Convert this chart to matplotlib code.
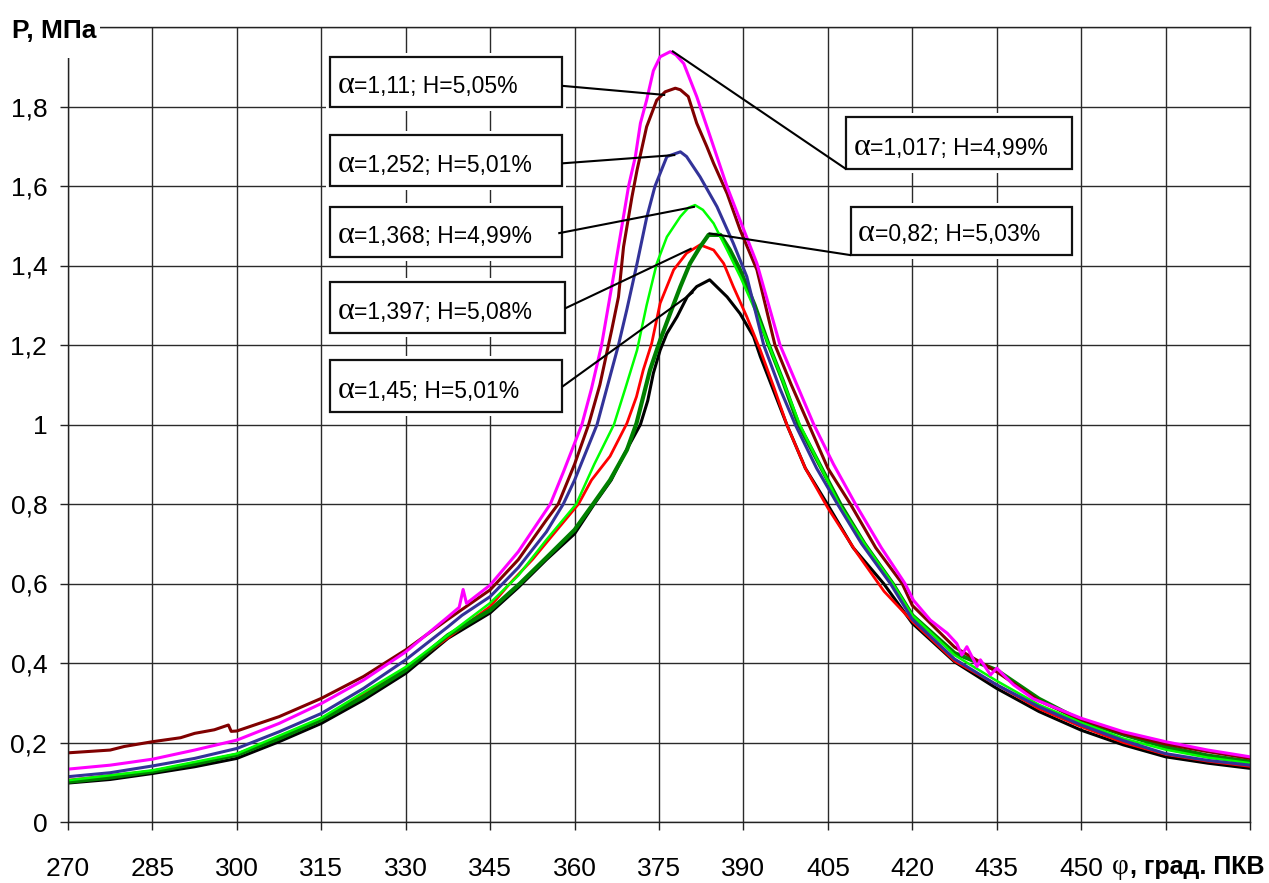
import numpy as np
import matplotlib
matplotlib.use('Agg')
import matplotlib.pyplot as plt
from matplotlib.patches import Rectangle

# ---------------- data ----------------
# alpha=1,017; H=4,99%  (magenta)
x_m = [270, 277.5, 285, 292.5, 300, 307.5, 315, 322.5, 330, 337.5, 339.5, 340.2, 340.8, 345, 350, 355.7, 358,
       361.3, 363, 364.8, 367, 369.6, 370.8, 371.7, 372.8, 374, 375.2, 377, 378, 379.4, 381.7, 384.7, 387.1,
       389.4, 392.4, 394.5, 396.5, 399.5, 402.5, 406, 409.9, 414.5, 418.7, 420.2, 423.2, 426.2, 427.9, 428.8,
       429.7, 431.5, 432.1, 433.9, 435, 436.5, 438, 441.5, 450, 457.5, 465, 472.5, 480]
y_m = [0.133, 0.143, 0.158, 0.181, 0.206, 0.248, 0.298, 0.357, 0.428, 0.516, 0.54, 0.585, 0.55, 0.596, 0.68,
       0.80, 0.88, 1.0, 1.09, 1.2, 1.38, 1.6, 1.674, 1.758, 1.816, 1.89, 1.925, 1.938, 1.93, 1.908, 1.825,
       1.699, 1.598, 1.514, 1.405, 1.30, 1.2, 1.10, 1.0, 0.90, 0.8, 0.69, 0.6, 0.558, 0.508, 0.475, 0.449,
       0.42, 0.441, 0.391, 0.408, 0.37, 0.387, 0.366, 0.345, 0.31, 0.261, 0.227, 0.202, 0.181, 0.164]

# alpha=1,11; H=5,05%  (dark red)
x_d = [270, 277.5, 280, 285, 290, 292.5, 296, 298.5, 299, 300, 307.5, 315, 322.5, 330, 337.5, 345, 350, 355,
       357.1, 360, 362.5, 364.5, 366.6, 367.8, 368.7, 370.2, 371.1, 372.8, 374.6, 376.1, 377.9, 378.8, 380.2,
       381.7, 383.5, 384.7, 387.1, 389.4, 392.4, 395.6, 398.5, 401.6, 405, 409, 413.5, 418.2, 420, 427.5, 435,
       442.5, 450, 457.5, 465, 472.5, 480]
y_d = [0.174, 0.181, 0.19, 0.202, 0.212, 0.223, 0.232, 0.244, 0.228, 0.229, 0.265, 0.311, 0.366, 0.433, 0.51,
       0.584, 0.66, 0.76, 0.80, 0.90, 1.0, 1.10, 1.238, 1.321, 1.447, 1.573, 1.64, 1.749, 1.816, 1.837, 1.846,
       1.842, 1.825, 1.758, 1.699, 1.657, 1.581, 1.49, 1.389, 1.2, 1.10, 1.0, 0.89, 0.8, 0.69, 0.6, 0.545,
       0.44, 0.378, 0.305, 0.258, 0.222, 0.196, 0.177, 0.16]

# alpha=1,252; H=5,01%  (blue)
x_b = [270, 277.5, 285, 292.5, 300, 307.5, 315, 322.5, 330, 337.5, 340, 345, 350, 355, 358, 360, 364, 367.8,
       369.3, 371.1, 372.8, 374.3, 376.4, 378.8, 379.9, 382.3, 385.3, 388.2, 390.6, 393.6, 396.5, 399.2, 403,
       406.7, 411, 416.1, 420, 427.5, 435, 442.5, 450, 457.5, 465, 472.5, 480]
y_b = [0.114, 0.124, 0.141, 0.160, 0.185, 0.227, 0.273, 0.336, 0.408, 0.491, 0.52, 0.567, 0.64, 0.73, 0.80,
       0.86, 1.0, 1.2, 1.29, 1.405, 1.52, 1.6, 1.674, 1.686, 1.674, 1.623, 1.548, 1.456, 1.372, 1.2, 1.09, 1.0,
       0.89, 0.8, 0.70, 0.6, 0.51, 0.41, 0.345, 0.29, 0.244, 0.205, 0.172, 0.155, 0.143]

# alpha=1,368; H=4,99%  (lime)
x_l = [270, 285, 300, 315, 330, 345, 350, 355, 360.3, 363.5, 367, 369, 371.1, 372.8, 374.6, 376.4, 378.8,
       380.2, 381.4, 382.8, 384.7, 387.1, 389.5, 392, 394.5, 397, 400, 403.5, 407, 411.5, 416.5, 420, 427.5,
       435, 442.5, 450, 457.5, 465, 472.5, 480]
y_l = [0.105, 0.13, 0.172, 0.262, 0.39, 0.551, 0.62, 0.71, 0.8, 0.9, 1.0, 1.09, 1.187, 1.30, 1.405, 1.472,
       1.523, 1.545, 1.552, 1.54, 1.506, 1.439, 1.37, 1.29, 1.2, 1.11, 1.0, 0.9, 0.8, 0.7, 0.6, 0.52, 0.42,
       0.355, 0.295, 0.25, 0.21, 0.182, 0.162, 0.148]

# alpha=1,397; H=5,08%  (red)
x_r = [270, 285, 300, 315, 330, 345, 348.5, 352.5, 356, 360.7, 363, 366.3, 369.3, 371, 372.2, 373.7, 375.2,
       376.4, 377.6, 379.9, 382.3, 384.7, 386.5, 388.2, 390.6, 393, 395.5, 397.7, 401, 405, 410, 415, 420,
       427.5, 435, 442.5, 450, 457.5, 465, 472.5, 480]
y_r = [0.105, 0.128, 0.17, 0.258, 0.385, 0.542, 0.6, 0.66, 0.72, 0.8, 0.86, 0.92, 1.003, 1.07, 1.137, 1.204,
       1.305, 1.347, 1.389, 1.431, 1.452, 1.439, 1.405, 1.347, 1.271, 1.187, 1.09, 1.0, 0.89, 0.79, 0.68,
       0.58, 0.505, 0.405, 0.345, 0.285, 0.24, 0.2, 0.17, 0.153, 0.14]

# alpha=0,82; H=5,03%  (green)
x_g = [270, 277.5, 285, 292.5, 300, 307.5, 315, 322.5, 330, 337.5, 345, 350.3, 355, 360, 363.3, 366.3, 369.3,
       371, 372.2, 373.4, 375.2, 377, 378.8, 380.5, 382.3, 383.8, 385.9, 387.6, 389.4, 392, 394.5, 397, 399.8,
       403.5, 407.2, 411.5, 416.5, 420, 427.5, 435, 442.5, 450, 457.5, 465, 472.5, 480]
y_g = [0.101, 0.112, 0.127, 0.146, 0.169, 0.21, 0.257, 0.315, 0.382, 0.47, 0.533, 0.6, 0.665, 0.735, 0.8,
       0.86, 0.936, 1.003, 1.07, 1.137, 1.212, 1.28, 1.347, 1.405, 1.447, 1.477, 1.477, 1.439, 1.389, 1.30,
       1.2, 1.11, 1.0, 0.9, 0.8, 0.7, 0.6, 0.52, 0.425, 0.382, 0.31, 0.255, 0.22, 0.189, 0.167, 0.152]

# alpha=1,45; H=5,01%  (black)
x_k = [270, 277.5, 285, 292.5, 300, 307.5, 315, 322.5, 330, 337.5, 345, 350, 355, 360, 363.5, 366.5, 369,
       371.7, 373, 374, 375.2, 376.4, 378.2, 380, 381.7, 384, 387.1, 389.4, 391.8, 393, 395.5, 397.7, 401,
       404.9, 409.5, 414.9, 420, 427.5, 435, 442.5, 450, 457.5, 465, 472.5, 480]
y_k = [0.098, 0.107, 0.122, 0.139, 0.160, 0.202, 0.248, 0.307, 0.374, 0.462, 0.526, 0.59, 0.66, 0.725, 0.8,
       0.86, 0.93, 1.0, 1.06, 1.129, 1.187, 1.229, 1.271, 1.321, 1.347, 1.364, 1.321, 1.279, 1.221, 1.171,
       1.08, 1.0, 0.89, 0.8, 0.69, 0.6, 0.50, 0.403, 0.336, 0.278, 0.231, 0.194, 0.164, 0.148, 0.135]

labels = ['=1,017; H=4,99%', '=1,11; H=5,05%', '=1,252; H=5,01%', '=1,368; H=4,99%',
          '=1,397; H=5,08%', '=0,82; H=5,03%', '=1,45; H=5,01%']

x_ticks = [270, 285, 300, 315, 330, 345, 360, 375, 390, 405, 420, 435, 450, 465, 480]
x_tick_labels = ['270', '285', '300', '315', '330', '345', '360', '375', '390', '405', '420', '435', '450', '', '']
y_ticks = [0, 0.2, 0.4, 0.6, 0.8, 1.0, 1.2, 1.4, 1.6, 1.8, 2.0]
y_tick_labels = ['0', '0,2', '0,4', '0,6', '0,8', '1', '1,2', '1,4', '1,6', '1,8', '']

# ---------------- style ----------------
plt.rcParams['font.family'] = ['Liberation Sans', 'DejaVu Sans']

W, H = 1269, 883
fig = plt.figure(figsize=(W / 100, H / 100), dpi=100)
fig.patch.set_facecolor('white')
ax = fig.add_axes([68 / W, 1 - 822 / H, (1250 - 68) / W, (822 - 27) / H])
ax.set_xlim(270, 480)
ax.set_ylim(0, 2.0)
ax.set_xticks(x_ticks)
ax.set_xticklabels(x_tick_labels, fontsize=19)
ax.set_yticks(y_ticks)
ax.set_yticklabels(y_tick_labels, fontsize=19)
ax.tick_params(axis='both', direction='out', length=6, width=1.0, color='#222222')
ax.tick_params(axis='x', pad=19)
ax.tick_params(axis='y', pad=9)
ax.grid(True, color='#2a2a2a', lw=1.0)
ax.set_axisbelow(True)
for s in ax.spines.values():
    s.set_color('#222222')
    s.set_linewidth(1.0)

series = [
    (x_k, y_k, '#000000', 2.2),
    (x_r, y_r, '#ff0000', 2.0),
    (x_g, y_g, '#008000', 3.0),
    (x_l, y_l, '#00ff00', 1.8),
    (x_b, y_b, '#333399', 2.2),
    (x_d, y_d, '#800000', 2.2),
    (x_m, y_m, '#ff00ff', 2.2),
]
for i, (xs, ys, c, lw) in enumerate(series):
    ax.plot(xs, ys, color=c, lw=lw, zorder=2 + i * 0.01, solid_joinstyle='round')

# ---------------- callouts (layout, data coords) ----------------
px_x = 15 / 84.4   # data units per pixel, x
px_y = 2.0 / 795   # data units per pixel, y
callouts = [
    # (text, box x0, x1, y0, y1, line start, line end)
    (labels[1], 316.6, 357.8, 1.798, 1.924, (357.8, 1.852), (376.1, 1.829)),
    (labels[2], 316.6, 357.8, 1.600, 1.728, (357.8, 1.657), (377.9, 1.678)),
    (labels[3], 316.6, 357.8, 1.421, 1.546, (357.1, 1.481), (381.4, 1.548)),
    (labels[4], 316.6, 358.3, 1.229, 1.359, (358.3, 1.292), (380.8, 1.443)),
    (labels[6], 316.6, 357.8, 1.032, 1.162, (357.8, 1.095), (381.1, 1.333)),
    (labels[0], 408.3, 448.4, 1.642, 1.773, (408.3, 1.642), (377.3, 1.940)),
    (labels[5], 409.1, 448.4, 1.426, 1.547, (409.1, 1.426), (383.8, 1.481)),
]
for txt, x0, x1, y0, y1, p0, p1 in callouts:
    m = 4
    ax.add_patch(Rectangle((x0 - m * px_x, y0 - m * px_y), (x1 - x0) + 2 * m * px_x, (y1 - y0) + 2 * m * px_y,
                           facecolor='white', edgecolor='none', zorder=3, clip_on=False))
    ax.add_patch(Rectangle((x0, y0), x1 - x0, y1 - y0, facecolor='white', edgecolor='#111111', lw=1.6,
                           zorder=4, clip_on=False))
    ax.plot([p0[0], p1[0]], [p0[1], p1[1]], color='black', lw=1.5, zorder=5, solid_capstyle='butt')
    yb = y0 + 14 * px_y
    ta = ax.text(x0 + 7 * px_x, yb, 'α', fontsize=23, family='Liberation Serif',
                 va='baseline', ha='left', zorder=6)
    ax.annotate(txt, xy=(1, yb), xycoords=(ta, 'data'), fontsize=16.5, va='baseline', ha='left',
                zorder=6, family='Liberation Sans', annotation_clip=False)

# ---------------- axis titles ----------------
fig.add_artist(Rectangle((0, 1 - 58 / H), 100 / W, 58 / H, transform=fig.transFigure,
                         facecolor='white', edgecolor='none', zorder=5))
fig.text(12 / W, 1 - 38 / H, 'P, МПа', fontsize=19, fontweight='bold', ha='left', va='baseline',
         family='Liberation Sans', zorder=6)
tphi = fig.text(1112 / W, 1 - 874 / H, 'φ', fontsize=21, family='Liberation Serif',
                ha='left', va='baseline', zorder=6)
fig.text(1130 / W, 1 - 874 / H, ', град. ПКВ', fontsize=18, fontweight='bold',
         ha='left', va='baseline', family='Liberation Sans', zorder=6)

fig.savefig('out.png', dpi=100, facecolor='white')
